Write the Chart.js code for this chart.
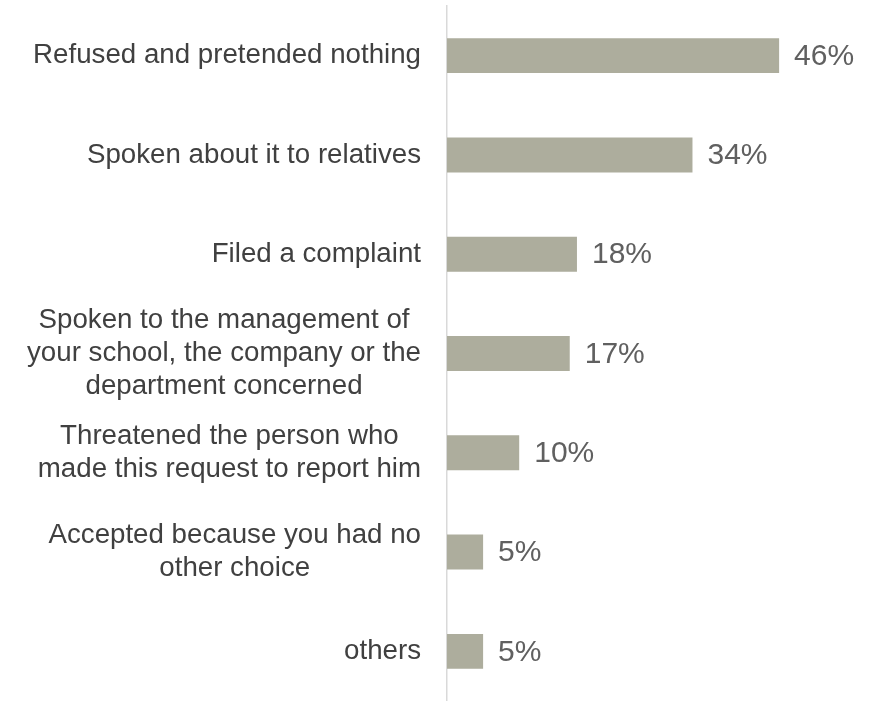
<!DOCTYPE html>
<html>
<head>
<meta charset="utf-8">
<script src="https://cdn.jsdelivr.net/npm/chart.js@4.4.1/dist/chart.umd.min.js"></script>
<style>
  html, body { margin: 0; padding: 0; background: #fff; }
  .wrap { width: 869px; height: 701px; position: relative; }
</style>
</head>
<body>
<div class="wrap"><canvas id="answersChart"></canvas></div>
<script>
const answers = [
    'Refused and pretended nothing',
    'Spoken about it to relatives',
    'Filed a complaint',
    ['Spoken to the management of', 'your school, the company or the', 'department concerned'],
    ['Threatened the person who', 'made this request to report him'],
    ['Accepted because you had no', 'other choice'],
    'others'
];
const shares = [46, 34, 18, 17, 10, 5, 5];

const FONT = '"Liberation Sans", Arial, sans-serif';
const LABEL_SIZE = 27.7;
const LINE_H = 33.3;

// category names: block sits right against the axis, lines centred inside the block
const categoryLabels = {
    id: 'categoryLabels',
    afterDraw(chart) {
        const ctx = chart.ctx;
        const yScale = chart.scales.y;
        const right = chart.chartArea.left - 26;
        ctx.save();
        ctx.font = LABEL_SIZE + 'px ' + FONT;
        ctx.fillStyle = '#404040';
        ctx.textAlign = 'center';
        ctx.textBaseline = 'middle';
        answers.forEach((label, i) => {
            const lines = Array.isArray(label) ? label : [label];
            const widest = Math.max(...lines.map(l => ctx.measureText(l).width));
            const cx = right - widest / 2;
            const y0 = yScale.getPixelForTick(i) - (lines.length - 1) * LINE_H / 2;
            lines.forEach((line, j) => {
                ctx.fillText(line, cx, y0 + j * LINE_H);
            });
        });
        ctx.restore();
    }
};

// puts "NN%" just past the end of each bar
const valueLabels = {
    id: 'valueLabels',
    afterDatasetsDraw(chart) {
        const ctx = chart.ctx;
        const meta = chart.getDatasetMeta(0);
        ctx.save();
        ctx.font = '30px ' + FONT;
        ctx.fillStyle = '#606060';
        ctx.textAlign = 'left';
        ctx.textBaseline = 'middle';
        meta.data.forEach((bar, i) => {
            ctx.fillText(shares[i] + '%', bar.x + 15, bar.y + 1);
        });
        ctx.restore();
    }
};

const ctx = document.getElementById('answersChart').getContext('2d');
const answersChart = new Chart(ctx, {
    type: 'bar',
    data: {
        labels: answers,
        datasets: [{
            data: shares,
            backgroundColor: '#adad9d',
            borderWidth: 0,
            barPercentage: 0.7,
            categoryPercentage: 0.503
        }]
    },
    plugins: [valueLabels, categoryLabels],
    options: {
        indexAxis: 'y',
        responsive: true,
        maintainAspectRatio: false,
        animation: false,
        layout: {
            padding: { top: 6, right: 61, bottom: 0, left: 0 }
        },
        plugins: {
            legend: { display: false },
            tooltip: { enabled: false }
        },
        scales: {
            x: {
                display: false,
                min: 0,
                max: 50
            },
            y: {
                afterFit(scale) {
                    // fixed label column, no extra room at the ends
                    scale.width = 447;
                    scale.paddingTop = 0;
                    scale.paddingBottom = 0;
                },
                grid: { display: false, drawTicks: false },
                border: { display: true, color: '#d9d9d9', width: 1.5 },
                ticks: { display: false, autoSkip: false }
            }
        }
    }
});
</script>
</body>
</html>
